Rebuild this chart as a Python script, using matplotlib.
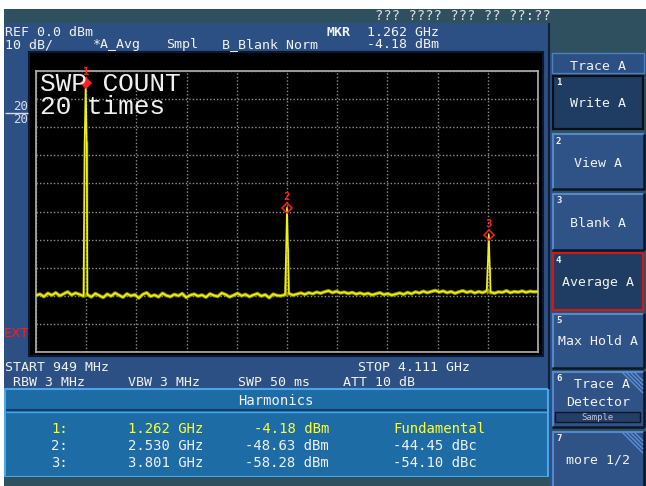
import numpy as np
import matplotlib
matplotlib.use("Agg")
import matplotlib.pyplot as plt
from matplotlib.patches import Rectangle

W, H = 646, 486

# Sweep settings
start_ghz = 0.949
stop_ghz = 4.111
ref_dbm = 0.0
db_per_div = 10

# Averaged noise floor, evenly spaced across the sweep (dBm)
noise_dbm = [
    -79.9, -79.4, -80.3, -79.1, -79.8, -78.9, -80.0, -79.3, -78.6, -79.7,
    -79.0, -79.5, -80.1,
    -79.6, -80.4, -79.2, -79.9, -80.6, -79.4, -80.1, -79.0, -79.8, -80.5,
    -79.3, -80.0, -79.6, -80.8, -79.5, -78.9, -80.2, -79.7, -80.4, -79.1,
    -79.9, -80.3, -79.5, -80.0, -79.2, -80.6, -79.8, -79.4, -80.1, -79.7,
    -80.5, -79.3, -79.9, -80.2, -79.0, -79.6, -80.4, -79.8, -79.1, -80.0,
    -79.5, -80.3, -79.7, -79.2, -80.1, -79.6, -80.7, -79.4, -79.9,
    -80.0, -79.6, -79.2, -79.8, -79.4, -79.0, -79.5, -78.9, -79.3, -78.7,
    -79.1, -78.6, -78.2, -78.9, -78.4, -79.0, -78.7, -79.2, -78.8, -79.4,
    -79.0, -79.5, -79.1, -79.7, -79.3, -78.9, -79.6, -79.2, -79.8, -79.4,
    -79.0, -79.5, -78.8, -79.3, -78.6, -79.0, -78.4, -78.9, -78.5, -78.1,
    -78.7, -78.3, -78.9, -78.5, -79.1, -78.6, -78.2, -78.8, -78.4, -79.0,
    -78.5, -78.9, -78.3, -78.7, -79.1, -78.6, -78.8, -78.2, -78.9, -78.5,
    -78.7, -78.3, -78.8, -78.4, -78.6, -78.5,
]

# Harmonic peaks
harm_no = [1, 2, 3]
harm_ghz = [1.262, 2.530, 3.801]
harm_dbm = [-4.18, -48.63, -58.28]
harm_dbc = [None, -44.45, -54.10]
shoulder_left_dbm = [-24.6, -65.5, -69.0]
shoulder_right_dbm = [-24.8, -63.0, -69.8]
bin_ghz = 0.0063

# Build the trace: noise samples plus the three peak bins
noise_ghz = np.linspace(start_ghz, stop_ghz, len(noise_dbm))
freq = list(noise_ghz)
level = list(noise_dbm)
for g, pk, sl, sr in zip(harm_ghz, harm_dbm, shoulder_left_dbm, shoulder_right_dbm):
    freq += [g - bin_ghz, g, g + bin_ghz]
    level += [sl, pk, sr]
order = np.argsort(freq, kind="stable")
freq = np.asarray(freq)[order]
level = np.asarray(level)[order]

MONO = "DejaVu Sans Mono"
WHITE = "#f2f2f2"
SLATE = "#2f505e"
PANEL = "#2c5083"
KEYFACE = "#2f5387"
KEYDARK = "#1f3c62"
TABLE = "#1d6ca6"
TABLE_EDGE = "#4aa6e8"

fig = plt.figure(figsize=(W / 100, H / 100), dpi=100)
fig.patch.set_facecolor("white")

bg = fig.add_axes([0, 0, 1, 1], zorder=-1)
bg.set_xlim(0, W)
bg.set_ylim(H, 0)
bg.axis("off")


def rect(x0, y0, x1, y1, fc, ec="none", lw=0.0):
    bg.add_patch(Rectangle((x0, y0), x1 - x0, y1 - y0, fc=fc, ec=ec, lw=lw))


def line(xs, ys, color, lw=1.0):
    bg.plot(xs, ys, color=color, lw=lw, solid_capstyle="butt")


def txt(x, y, s, **kw):
    kw.setdefault("family", MONO)
    kw.setdefault("color", WHITE)
    kw.setdefault("fontsize", 9.5)
    kw.setdefault("va", "baseline")
    fig.text(x / W, 1 - y / H, s, **kw)


# Frame of the instrument screen
rect(4, 9, W, H, SLATE)
rect(4, 23, 549, 389, PANEL)
line([549, 549], [23, 389], "#10203a", 1.5)

# Black display area
rect(29, 52, 543, 356, "black", ec="#0c1830", lw=1.5)

# Harmonics table
rect(5, 389, 548, 477, TABLE, ec=TABLE_EDGE, lw=1.5)
line([6, 547], [410, 410], "#0f3f66", 1.5)
line([6, 547], [412, 412], TABLE_EDGE, 1.0)
rect(4, 477, 549, H, SLATE)

# Right softkey column
rect(549, 23, W, H, SLATE)
rect(549, 53, 552, H, PANEL)
rect(552, 53, 644, 73, PANEL, ec="#4f7fc2", lw=1.0)
txt(598, 70, "Trace A", ha="center")


def softkey(y0, y1, face, border=None, stripes=False):
    x0, x1 = 552, 644
    rect(x0, y0, x1, y1, face)
    if border is not None:
        rect(x0 + 1, y0 + 1, x1 - 1, y1 - 1, "none", ec=border, lw=1.6)
    else:
        line([x0, x1], [y0 + 0.5, y0 + 0.5], "#5686cc", 1.5)
        line([x0 + 0.5, x0 + 0.5], [y0, y1], "#5686cc", 1.5)
        line([x0, x1], [y1 - 0.5, y1 - 0.5], "#0b1628", 1.8)
        line([x1 - 0.5, x1 - 0.5], [y0, y1], "#0b1628", 1.8)
    if stripes:
        for k in range(4):
            d = 4 * k
            line([x1 - 22 + d, x1 - 1], [y0 + 1, y0 + 22 - d], "#5f8fd6", 1.0)


softkey(75, 130, KEYDARK, border="#0a0f1a")
softkey(134, 190, KEYFACE)
softkey(193, 250, KEYFACE)
softkey(252, 311, KEYDARK, border="#d01818")
softkey(313, 368, KEYFACE)
softkey(371, 427, KEYFACE, stripes=True)
softkey(431, H + 2, KEYFACE, stripes=True)

key_nums = ["1", "2", "3", "4", "5", "6", "7"]
key_num_y = [85, 144, 203, 263, 323, 381, 441]
for n, y in zip(key_nums, key_num_y):
    txt(556, y, n, fontsize=6.5, weight="bold")

txt(598, 107, "Write A", ha="center")
txt(598, 167, "View A", ha="center")
txt(598, 227, "Blank A", ha="center")
txt(598, 286, "Average A", ha="center")
txt(598, 345, "Max Hold A", ha="center")
txt(602, 388, "Trace A", ha="center")
txt(598, 406, "Detector", ha="center")
rect(555, 412, 640, 422, "#233f68", ec="#0b1628", lw=1.0)
txt(598, 420, "Sample", ha="center", fontsize=6.5, color="#b8c4d8")
txt(598, 463, "more 1/2", ha="center")

# Header lines
txt(375, 20, "??? ???? ??? ?? ??:??", fontsize=10, color="#e0e0e0")
txt(5, 36, "REF %.1f dBm" % ref_dbm)
txt(5, 48, "%d dB/" % db_per_div)
txt(93, 48, "*A_Avg")
txt(166, 48, "Smpl")
txt(222, 48, "B_Blank Norm")
txt(326, 36, "MKR", weight="bold")
txt(367, 36, "%.3f GHz" % harm_ghz[0])
txt(367, 48, "%.2f dBm" % harm_dbm[0])

# Left margin labels
txt(28, 110, "20", ha="right", fontsize=9, color="#d8dce8")
line([5, 28], [113, 113], "#d8dce8", 1.0)
txt(28, 123, "20", ha="right", fontsize=9, color="#d8dce8")
txt(4, 337, "EXT", family="DejaVu Sans", fontsize=9.5, color="#ff1a1a")

# Footer settings
txt(5, 371, "START %d MHz" % round(start_ghz * 1000))
txt(358, 371, "STOP %.3f GHz" % stop_ghz)
txt(13, 386, "RBW 3 MHz")
txt(128, 386, "VBW 3 MHz")
txt(238, 386, "SWP 50 ms")
txt(343, 386, "ATT 10 dB")

# Harmonics table contents
txt(276, 405, "Harmonics", ha="center", fontsize=10)
row_y = [433, 450, 467]
for n, g, pk, dbc, y in zip(harm_no, harm_ghz, harm_dbm, harm_dbc, row_y):
    c = "#ffff33" if n == 1 else WHITE
    txt(68, y, "%d:" % n, ha="right", fontsize=10, color=c)
    txt(128, y, "%.3f GHz" % g, fontsize=10, color=c)
    txt(329, y, "%.2f dBm" % pk, ha="right", fontsize=10, color=c)
    txt(393, y, "Fundamental" if dbc is None else "%.2f dBc" % dbc,
        fontsize=10, color=c)

# Spectrum display
ax = fig.add_axes([36 / W, 1 - 352 / H, 502 / W, 281 / H])
ax.set_facecolor("black")
ax.set_xlim(start_ghz, stop_ghz)
ax.set_ylim(ref_dbm - 10 * db_per_div, ref_dbm)
ax.set_xticks(np.linspace(start_ghz, stop_ghz, 11))
ax.set_yticks(np.linspace(ref_dbm - 10 * db_per_div, ref_dbm, 11))
ax.tick_params(length=0, labelbottom=False, labelleft=False)
ax.grid(True, color="#8e8e8e", lw=1.0, ls=(0, (1, 1.5)))
for s in ax.spines.values():
    s.set_color("#a6a6a6")
    s.set_linewidth(1.3)

# Olive fringe under the noise floor, then the bright trace
ax.plot(noise_ghz, noise_dbm, color="#8f8f00", lw=2.6, zorder=2)
ax.plot(freq, level, color="#f0f014", lw=1.2, zorder=3)

# Wider olive base of each peak up to its shoulder bins
for g, sl, sr in zip(harm_ghz, shoulder_left_dbm, shoulder_right_dbm):
    ax.vlines([g - bin_ghz * 1.4, g + bin_ghz * 1.4], -79.5, [sl, sr],
              color="#9a9a00", lw=1.0, zorder=2.5)

for n, g, pk in zip(harm_no, harm_ghz, harm_dbm):
    filled = n == 1
    ax.plot(g, pk, marker="D", ms=5.5, mfc="#ff2020" if filled else "none",
            mec="#ff2020", mew=1.1, zorder=4, clip_on=False)
    ax.annotate(str(n), (g, pk), xytext=(0, 4), textcoords="offset points",
                ha="center", va="bottom", color="#ff2020", fontsize=7.5,
                family=MONO, weight="bold", zorder=4)

ax.text(4 / 502, 1 - 1 / 281, "SWP COUNT\n20 times", transform=ax.transAxes,
        ha="left", va="top", family="Liberation Mono", fontsize=18.8,
        color="#f0f0f0", linespacing=0.95, zorder=5)

fig.savefig("out.png", dpi=100, facecolor=fig.get_facecolor())
